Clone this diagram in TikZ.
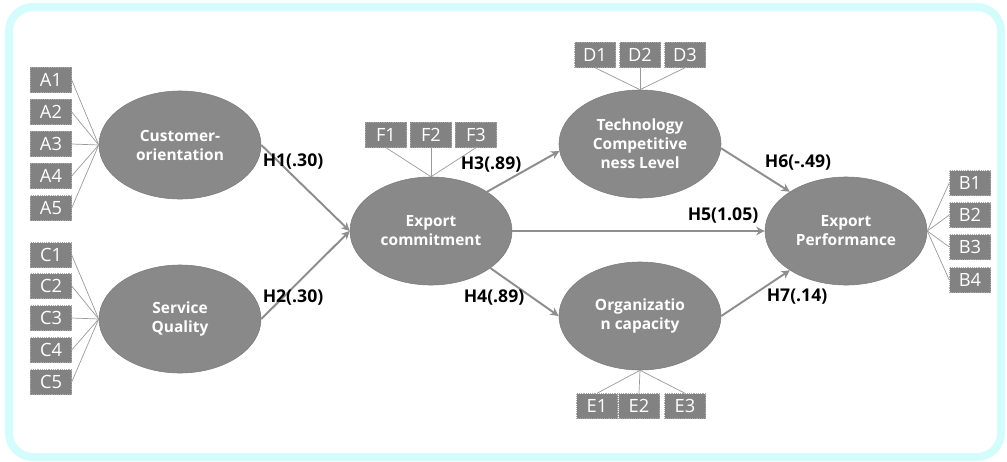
\documentclass[tikz,border=0pt]{standalone}
\usepackage{fontspec}
\setmainfont{Open Sans}
\usetikzlibrary{shapes.geometric,arrows.meta,positioning}
\definecolor{framecyan}{HTML}{D4FCFC}
\definecolor{latentgray}{HTML}{898989}
\definecolor{latentedge}{HTML}{7C7C7C}
\definecolor{itemgray}{HTML}{828282}
\definecolor{itemedge}{HTML}{A8A8A8}
\definecolor{loadgray}{HTML}{9A9A9A}
\definecolor{pathgray}{HTML}{8E8E8E}

\begin{document}
\begin{tikzpicture}[x=0.025cm,y=-0.025cm,
  latent/.style={ellipse, fill=latentgray, draw=latentedge, thin,
    minimum width=4.05cm, minimum height=2.7cm, inner sep=0pt,
    text=white, align=center, font=\fontsize{11}{13.5}\selectfont\bfseries},
  item/.style={rectangle, fill=itemgray, draw=itemedge, densely dotted,
    line width=0.3pt, minimum width=1.025cm, minimum height=0.625cm,
    inner sep=0pt, text=white, font=\fontsize{13}{15}\selectfont},
  load/.style={draw=loadgray, line width=0.5pt},
  hpath/.style={draw=pathgray, line width=1.4pt,
    -{Stealth[length=6pt,width=6pt]}},
  hyp/.style={inner sep=0pt, font=\fontsize{12.5}{15}\selectfont\bfseries}]

\useasboundingbox (0,0) rectangle (1007,461);
\draw[framecyan, line width=0.2cm, rounded corners=0.6cm] (9,7) rectangle (1001,457);

% latent variables
\node[latent] (cust) at (180,145) {Customer-\\orientation};
\node[latent] (serv) at (180,319) {Service\\Quality};
\node[latent] (expc) at (431,231) {Export\\commitment};
\node[latent] (tech) at (640,144) {Technology\\Competitive\\ness Level};
\node[latent] (orgc) at (640,316) {Organizatio\\n capacity};
\node[latent] (perf) at (846,231) {Export\\Performance};

% indicators
\foreach \i/\y in {1/80,2/112,3/144,4/176,5/208}{
  \node[item] (A\i) at (51,\y) {A\i};
  \draw[load] (A\i.east) -- (cust.west);
}
\foreach \i/\y in {1/255,2/286,3/318,4/350,5/382}{
  \node[item] (C\i) at (51,\y) {C\i};
  \draw[load] (C\i.east) -- (serv.west);
}
\foreach \i/\x in {1/386,2/431,3/476}{
  \node[item] (F\i) at (\x,135) {F\i};
  \draw[load] (F\i.south) -- (expc.north);
}
\foreach \i/\x in {1/595,2/640,3/685}{
  \node[item] (D\i) at (\x,55) {D\i};
  \draw[load] (D\i.south) -- (tech.north);
}
\foreach \i/\x in {1/597,2/639,3/685}{
  \node[item] (E\i) at (\x,406) {E\i};
  \draw[load] (E\i.north) -- (orgc.south);
}
\foreach \i/\y in {1/183,2/215,3/247,4/280}{
  \node[item] (B\i) at (970,\y) {B\i};
  \draw[load] (B\i.west) -- (perf.east);
}

% hypotheses
\draw[hpath] (cust.east) -- (expc.west);
\draw[hpath] (serv.east) -- (expc.west);
\draw[hpath] (expc.35) -- (tech.185);
\draw[hpath] (expc.-32) -- (orgc.west);
\draw[hpath] (expc.east) -- (perf.west);
\draw[hpath] (tech.-3) -- (perf.145);
\draw[hpath] (orgc.east) -- (perf.215);

\node[hyp] (h1) at (293,162) {H1(.30)};
\node[hyp] (h2) at (293,298) {H2(.30)};
\node[hyp] (h3) at (491,165) {H3(.89)};
\node[hyp] (h4) at (494,298) {H4(.89)};
\node[hyp] (h5) at (723,216) {H5(1.05)};
\node[hyp] (h6) at (798,163) {H6(-.49)};
\node[hyp] (h7) at (797,297) {H7(.14)};
\end{tikzpicture}
\end{document}
